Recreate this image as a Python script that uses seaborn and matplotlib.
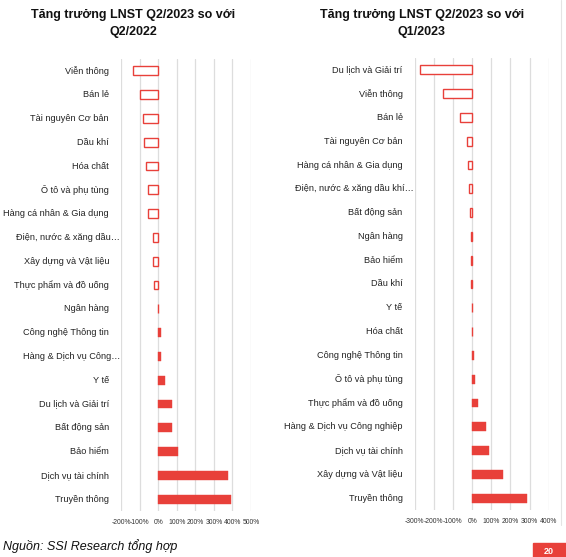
import matplotlib
matplotlib.use('Agg')
import matplotlib.pyplot as plt
import matplotlib.transforms as mtransforms
from matplotlib.patches import Rectangle
import seaborn as sns
import pandas as pd

# Left panel: Q2/2023 vs Q2/2022
left_cats = ['Viễn thông', 'Bán lẻ', 'Tài nguyên Cơ bản', 'Dầu khí', 'Hóa chất',
             'Ô tô và phụ tùng', 'Hàng cá nhân & Gia dụng', 'Điện, nước & xăng dầu…',
             'Xây dựng và Vật liệu', 'Thực phẩm và đồ uống', 'Ngân hàng',
             'Công nghệ Thông tin', 'Hàng & Dịch vụ Công…', 'Y tế', 'Du lịch và Giải trí',
             'Bất động sản', 'Bảo hiểm', 'Dịch vụ tài chính', 'Truyền thông']
left_vals = [-133, -96, -83, -74, -67, -52, -52, -29, -28, -20, -3,
             13, 14, 36, 72, 74, 106, 378, 391]
left_ticks = [-200, -100, 0, 100, 200, 300, 400, 500]

# Right panel: Q2/2023 vs Q1/2023
right_cats = ['Du lịch và Giải trí', 'Viễn thông', 'Bán lẻ', 'Tài nguyên Cơ bản',
              'Hàng cá nhân & Gia dụng', 'Điện, nước & xăng dầu khí…', 'Bất động sản',
              'Ngân hàng', 'Bảo hiểm', 'Dầu khí', 'Y tế', 'Hóa chất',
              'Công nghệ Thông tin', 'Ô tô và phụ tùng', 'Thực phẩm và đồ uống',
              'Hàng & Dịch vụ Công nghiệp', 'Dịch vụ tài chính', 'Xây dựng và Vật liệu',
              'Truyền thông']
right_vals = [-270, -150, -63, -25, -19, -14, -9, -7, -7, -4, -3, -2,
              9, 14, 31, 72, 89, 162, 288]
right_ticks = [-300, -200, -100, 0, 100, 200, 300, 400]

RED = '#e8403a'
sns.set_style('white')
plt.rcParams['font.family'] = ['Liberation Sans', 'DejaVu Sans']

fig = plt.figure(figsize=(5.66, 5.57), dpi=100)
ax1 = fig.add_axes([121 / 566, 1 - 511 / 557, 130 / 566, 452 / 557])
ax2 = fig.add_axes([414.7 / 566, 1 - 510 / 557, 134 / 566, 452 / 557])


def draw_panel(ax, cats, vals, ticks, title, title_x):
    df = pd.DataFrame({'sector': cats, 'growth': vals})
    sns.barplot(data=df, x='growth', y='sector', color=RED, width=0.37,
                orient='h', ax=ax, saturation=1)
    for patch, v in zip(ax.patches, vals):
        if v < 0:
            patch.set_facecolor('white')
            patch.set_edgecolor(RED)
            patch.set_linewidth(1.0)
        else:
            patch.set_edgecolor(RED)
            patch.set_linewidth(0.3)
    ax.set_xlim(ticks[0], ticks[-1])
    ax.set_ylim(len(cats) - 0.5, -0.5)
    ax.set_xticks(ticks)
    ax.set_xticklabels([f'{t}%' for t in ticks], fontsize=4.9, color='#333333')
    ax.tick_params(axis='x', length=0, pad=6)
    ax.grid(axis='x', color='#dddddd', linewidth=0.9)
    ax.set_axisbelow(True)
    for s in ax.spines.values():
        s.set_visible(False)
    ax.set_xlabel('')
    ax.set_ylabel('')
    ax.set_yticks(range(len(cats)))
    ax.set_yticklabels([])
    ax.tick_params(axis='y', length=0)
    base = mtransforms.blended_transform_factory(ax.transAxes, ax.transData)
    for i, c in enumerate(cats):
        shift = -1 if c.endswith('…') else -12
        tr = mtransforms.offset_copy(base, fig=fig, x=shift, y=0, units='dots')
        ax.text(0, i, c, transform=tr, ha='right', va='center', fontsize=6.6,
                color='#222222')
    fig.text(title_x, 1 - 9 / 557, title, ha='center', va='top',
             fontsize=9, fontweight='bold', color='#111111', linespacing=1.55)


draw_panel(ax1, left_cats, left_vals, left_ticks,
           'Tăng trưởng LNST Q2/2023 so với\nQ2/2022', 133 / 566)
draw_panel(ax2, right_cats, right_vals, right_ticks,
           'Tăng trưởng LNST Q2/2023 so với\nQ1/2023', 422 / 566)

fig.text(3 / 566, 1 - 546 / 557, 'Nguồn: SSI Research tổng hợp', ha='left',
         va='center', fontsize=9, style='italic', color='#111111')

# page decorations at the right edge
fig.add_artist(plt.Line2D([561 / 566, 561 / 566], [1 - 525 / 557, 1], color='#e4e4e4',
                          linewidth=0.8, transform=fig.transFigure))
fig.add_artist(Rectangle((533 / 566, 0), 33 / 566, 14 / 557, color=RED,
                         transform=fig.transFigure))
fig.text(549 / 566, 6 / 557, '20', ha='center', va='center', fontsize=6.5,
         color='white', fontweight='bold')

fig.savefig('out.png', dpi=100)
